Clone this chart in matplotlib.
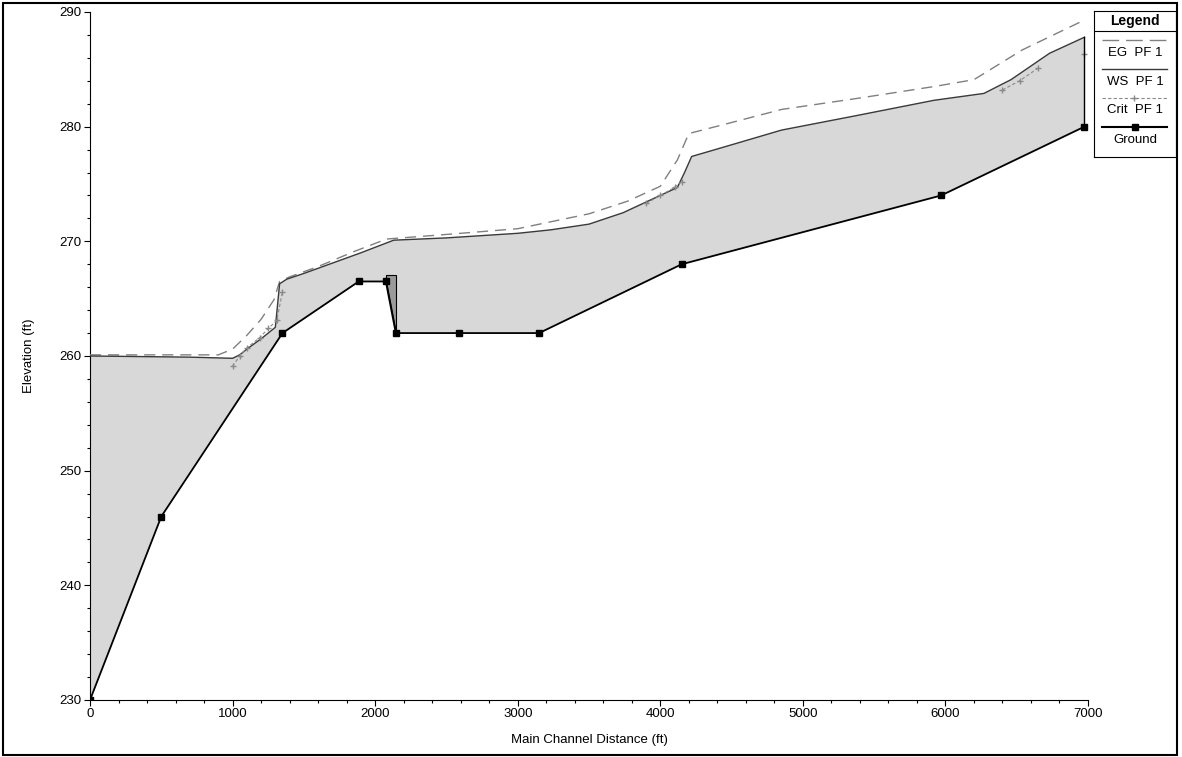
import matplotlib
matplotlib.use("Agg")
import matplotlib.pyplot as plt
import numpy as np
from matplotlib.patches import Rectangle
from matplotlib.lines import Line2D

plt.rcParams['font.family'] = ['Liberation Sans Narrow', 'Liberation Sans', 'DejaVu Sans']

# ground profile (main channel distance ft, elevation ft)
ground_x = [0, 500, 1350, 1885, 2075, 2145, 2590, 3150, 4150, 5970, 6975]
ground_z = [230, 246, 262, 266.5, 266.5, 262, 262, 262, 268, 274, 280]

# water surface PF 1
ws_x = [0, 700, 1000, 1050, 1100, 1200, 1250, 1300, 1330, 1380, 1500, 1700, 1900,
        2130, 2500, 3000, 3230, 3500, 3740, 3930, 4120, 4170, 4220, 4440, 4850,
        5390, 5920, 6270, 6460, 6730, 6975]
ws_z = [260, 259.9, 259.8, 260.1, 260.6, 261.5, 262.0, 262.5, 266.3, 266.7, 267.2,
        268.1, 269.0, 270.1, 270.3, 270.7, 271.0, 271.5, 272.5, 273.6, 274.7, 276.0,
        277.4, 278.2, 279.7, 281.0, 282.3, 282.9, 284.1, 286.4, 287.8]

# energy grade PF 1
eg_x = [0, 900, 1000, 1100, 1200, 1290, 1330, 1400, 1600, 1850, 2080, 2500, 3000,
        3230, 3500, 3770, 4000, 4120, 4200, 4450, 4850, 5400, 5920, 6200, 6540, 6975]
eg_z = [260.1, 260.1, 260.6, 261.8, 263.2, 264.9, 266.5, 266.9, 267.8, 269.1, 270.2,
        270.6, 271.1, 271.7, 272.4, 273.5, 274.8, 277.1, 279.4, 280.2, 281.5, 282.5,
        283.5, 284.1, 286.7, 289.3]

# critical depth PF 1 (only where shown)
crit_x = [1000, 1050, 1100, 1190, 1250, 1310, 1350, np.nan, 3900, 4000, 4100, 4150,
          np.nan, 6400, 6520, 6650, np.nan, 6975]
crit_z = [259.1, 260.0, 260.7, 261.6, 262.4, 263.1, 265.6, np.nan, 273.3, 274.0,
          274.7, 275.2, np.nan, 283.2, 284.0, 285.1, np.nan, 286.3]

# inline structure outline
weir_x = [2075, 2075, 2145, 2145]
weir_z = [266.5, 267.1, 267.1, 262]

fig = plt.figure(figsize=(11.82, 7.57), dpi=100)
ax = fig.add_axes([90/1182, 57/757, 998/1182, 688/757])

# fill between water surface and ground
poly_x = np.concatenate([ws_x, ground_x[::-1]])
poly_z = np.concatenate([ws_z, ground_z[::-1]])
ax.fill(poly_x, poly_z, facecolor='#d8d8d8', edgecolor='none', zorder=1)
ax.fill(weir_x, weir_z, facecolor='#9a9a9a', edgecolor='black', lw=0.8, zorder=3)

ax.plot(eg_x, eg_z, color='#808080', lw=1, dashes=(8, 5), zorder=4)
ax.plot(ws_x, ws_z, color='#3a3a3a', lw=1, zorder=4)
ax.plot(crit_x, crit_z, color='#8a8a8a', lw=0.8, dashes=(3, 2), marker='+', ms=5, zorder=4)
ax.plot([ground_x[-1], ground_x[-1]], [ground_z[-1], ws_z[-1]], color='black', lw=1, zorder=4)
ax.plot(ground_x, ground_z, color='black', lw=1.3, marker='s', ms=5, zorder=5)

ax.set_xlim(0, 7000)
ax.set_ylim(230, 290)
ax.set_xticks(np.arange(0, 7001, 1000))
ax.set_xticks(np.arange(0, 7001, 200), minor=True)
ax.set_yticks(np.arange(230, 291, 10))
ax.set_yticks(np.arange(230, 291, 2), minor=True)
ax.spines['top'].set_visible(False)
ax.spines['right'].set_visible(False)
ax.tick_params(which='major', length=4, width=0.8, labelsize=9.5, pad=2)
ax.tick_params(which='minor', length=2, width=0.8)
ax.set_xlabel('Main Channel Distance (ft)', fontsize=9.5, labelpad=10)
ax.set_ylabel('Elevation (ft)', fontsize=9.5, labelpad=18)

# figure border
fig.patches.append(Rectangle((3/1182, 2/757), 1174/1182, 752/757, transform=fig.transFigure,
                             fill=False, edgecolor='black', lw=1.5))

# legend box drawn by hand
lg = fig.add_axes([1094/1182, (757-157)/757, 82/1182, 146/757])
lg.set_xlim(0, 82)
lg.set_ylim(146, 0)
lg.set_xticks([])
lg.set_yticks([])
for s in lg.spines.values():
    s.set_linewidth(0.8)
lg.text(41, 10, 'Legend', ha='center', va='center', fontsize=10, fontweight='bold')
lg.axhline(20, color='black', lw=0.8)
lg.add_line(Line2D([8, 73], [29, 29], color='#808080', lw=1, dashes=(12, 5)))
lg.text(41, 42, 'EG  PF 1', ha='center', va='center', fontsize=9.5)
lg.add_line(Line2D([8, 73], [58, 58], color='#3a3a3a', lw=1))
lg.text(41, 71, 'WS  PF 1', ha='center', va='center', fontsize=9.5)
lg.add_line(Line2D([8, 40, 73], [87, 87, 87], color='#8a8a8a', lw=0.8, dashes=(3, 2),
                   marker='+', markevery=[1], ms=5))
lg.text(41, 99, 'Crit  PF 1', ha='center', va='center', fontsize=9.5)
lg.add_line(Line2D([8, 41, 73], [116, 116, 116], color='black', lw=1.5,
                   marker='s', markevery=[1], ms=5))
lg.text(41, 129, 'Ground', ha='center', va='center', fontsize=9.5)

fig.savefig('out.png', dpi=100)
